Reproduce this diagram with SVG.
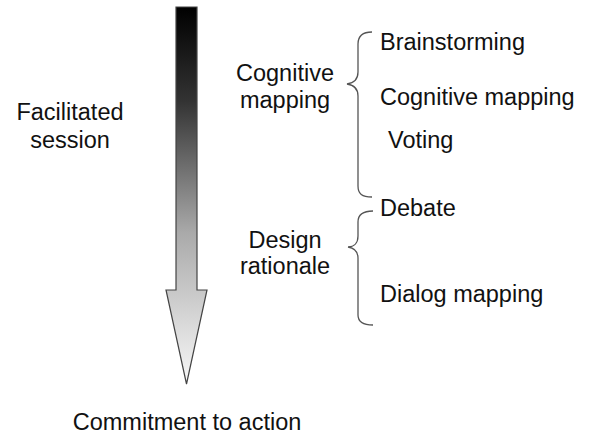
<svg xmlns="http://www.w3.org/2000/svg" width="590" height="436" viewBox="0 0 590 436">
<style>
text{font-family:"Liberation Sans",Arial,sans-serif;font-size:23.5px;fill:#111}
.c{text-anchor:middle}
.br{fill:none;stroke:#555;stroke-width:1.3}
</style>
<defs>
<linearGradient id="g" x1="0" y1="0" x2="0" y2="1">
<stop offset="0" stop-color="#000"/>
<stop offset="0.25" stop-color="#333"/>
<stop offset="0.6" stop-color="#aaa"/>
<stop offset="1" stop-color="#f8f8f8"/>
</linearGradient>
</defs>
<rect width="590" height="436" fill="#fff"/>
<g id="arrow">
<path d="M176,7 H197 V290 H207 L186.5,384 L166,290 H176 Z" fill="url(#g)" stroke="#444" stroke-width="1.2"/>
</g>
<g id="facilitated"><text class="c" x="70" y="120">Facilitated</text><text class="c" x="70" y="148">session</text></g>
<g id="commitment"><text class="c" x="187" y="430">Commitment to action</text></g>
<g id="cogmap"><text class="c" x="285" y="81">Cognitive</text><text class="c" x="285" y="108">mapping</text></g>
<g id="design"><text class="c" x="285" y="248">Design</text><text class="c" x="285" y="274">rationale</text></g>
<g id="connectors">
<path class="br" d="M372,32 C362,32 358,36 358,44 V72 C358,79 354,83 347,84 C354,85 358,89 358,96 V186 C358,194 362,197 372,197"/>
<path class="br" d="M373,211 C363,211 358,215 358,222 V236 C358,243 354,247 348,247 C354,248 358,252 358,258 V315 C358,322 363,325 373,325"/>
</g>
<g id="items">
<text x="380" y="50">Brainstorming</text>
<text x="380" y="105">Cognitive mapping</text>
<text x="388" y="148">Voting</text>
<text x="380" y="216">Debate</text>
<text x="380" y="302">Dialog mapping</text>
</g>
</svg>
